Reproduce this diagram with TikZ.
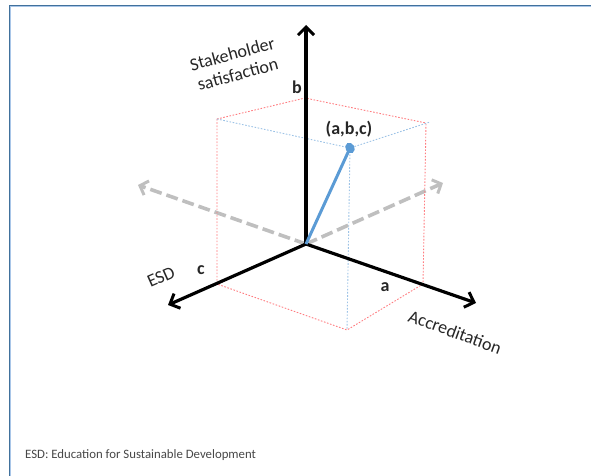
\documentclass[tikz,border=0pt]{standalone}
\usepackage{fontspec}
\setmainfont{Carlito}
\usetikzlibrary{arrows.meta}
\definecolor{frameDark}{HTML}{41719C}
\definecolor{frameLight}{HTML}{A9C6E8}
\definecolor{boxRed}{HTML}{FF7C80}
\definecolor{boxBlue}{HTML}{9DC3E6}
\definecolor{vecBlue}{HTML}{5B9BD5}
\definecolor{ghostGrey}{HTML}{BFBFBF}
\definecolor{txtDark}{HTML}{262626}
\begin{document}
\begin{tikzpicture}[x=1pt,y=-1pt,
  axis/.style={line width=3.2pt,black,-{Straight Barb[length=8pt,width=16pt,line width=3pt]}},
  ghost/.style={line width=3.6pt,ghostGrey,dash pattern=on 12pt off 5pt,-{Straight Barb[length=7pt,width=15pt,line width=3pt]}},
  redline/.style={boxRed,line width=0.9pt,dash pattern=on 1.6pt off 1.6pt},
  blueline/.style={boxBlue,line width=0.9pt,dash pattern=on 1.6pt off 1.6pt},
  axislabel/.style={font=\fontsize{18}{21}\selectfont,text=txtDark,inner sep=0pt,align=center},
  valuelabel/.style={font=\fontsize{18}{21}\selectfont\bfseries,text=txtDark,inner sep=0pt}]
  \useasboundingbox (0,0) rectangle (591,476);
  % frame
  \draw[frameDark,line width=1.3pt] (9.5,476) -- (9.5,5.5) -- (591,5.5);
  \draw[frameLight,line width=1pt] (10.8,476) -- (10.8,6.8) -- (591,6.8);

  % origin and axis ends
  \coordinate (O) at (306,244);
  \coordinate (tipB) at (306,25);
  \coordinate (tipC) at (168,305);
  \coordinate (tipA) at (476,303);
  \coordinate (ghostL) at (138,185);
  \coordinate (ghostR) at (443,183);

  % box corners
  \coordinate (topBack) at (305,98);
  \coordinate (topL) at (217,119);
  \coordinate (topR) at (426,123);
  \coordinate (P) at (350,148);
  \coordinate (botC) at (217,284);
  \coordinate (botA) at (423,284);
  \coordinate (botF) at (347,330);

  % rotated axes, dashed
  \draw[ghost] (O) -- (ghostL);
  \draw[ghost] (O) -- (ghostR);

  % projection box
  \draw[redline] (topL) -- (topBack) -- (topR);
  \draw[redline] (topL) -- (botC) -- (botF) -- (botA) -- (topR);
  \draw[blueline] (topL) -- (P) -- (430,122);
  \draw[blueline] (P) -- (botF);

  % main axes
  \draw[axis] (O) -- (tipB);
  \draw[axis] (O) -- (tipC);
  \draw[axis] (O) -- (tipA);

  % vector to the point
  \draw[vecBlue,line width=3pt] (O) -- (P);
  \fill[vecBlue,rotate around={30:(P)}] (P) ellipse (4.5pt and 5.5pt);

  % labels
  \node[axislabel,rotate=15] (lblB) at (235,64) {Stakeholder\\satisfaction};
  \node[axislabel,rotate=24] (lblC) at (161,277) {ESD};
  \node[axislabel,rotate=-20] (lblA) at (455,332) {Accreditation};
  \node[valuelabel] (mB) at (297,87) {b};
  \node[valuelabel] (mC) at (201,270) {c};
  \node[valuelabel] (mA) at (385,287) {a};
  \node[valuelabel] (mP) at (349,129) {(a,b,c)};

  \node[anchor=west,inner sep=0pt,font=\fontsize{12.8}{15}\selectfont,text=txtDark!85] (note) at (25,455) {ESD: Education for Sustainable Development};
\end{tikzpicture}
\end{document}
